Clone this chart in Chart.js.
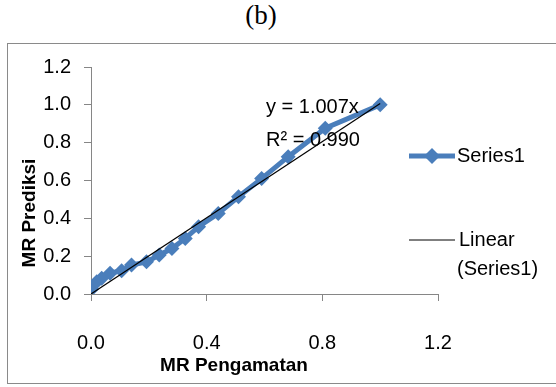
<!DOCTYPE html>
<html>
<head>
<meta charset="utf-8">
<script src="https://cdn.jsdelivr.net/npm/chart.js@4"></script>
<style>
  html, body { margin: 0; padding: 0; background: #fff; }
  #wrap { position: relative; width: 556px; height: 387px; overflow: hidden; }
  #frame { position: absolute; left: 7px; top: 43px; width: 600px; height: 341px; border: 1.5px solid #8a8a8a; box-sizing: border-box; }
  #ttl { position: absolute; left: 0; width: 522px; top: 0px; text-align: center; font-family: "Liberation Serif", "DejaVu Serif", serif; font-size: 27px; color: #000; }
  canvas { position: absolute; left: 0; top: 0; }
</style>
</head>
<body>
<div id="wrap">
  <div id="ttl">(b)</div>
  <div id="frame"></div>
  <canvas id="c" width="556" height="387"></canvas>
</div>
<script>
// Data
const mrPengamatan = [0.002, 0.02, 0.037, 0.066, 0.106, 0.14, 0.192, 0.236, 0.28, 0.326, 0.372, 0.44, 0.51, 0.59, 0.682, 0.81, 1.0];
const mrPrediksi   = [0.025, 0.065, 0.083, 0.11, 0.123, 0.153, 0.17, 0.206, 0.24, 0.294, 0.356, 0.426, 0.514, 0.61, 0.726, 0.876, 1.0];
const trendX = [0, 1.0];
const trendY = [0, 1.007];
const xTicks = [0.0, 0.4, 0.8, 1.2];
const yTicks = [0.0, 0.2, 0.4, 0.6, 0.8, 1.0, 1.2];
const seriesNames = ["Series1", "Linear (Series1)"];
const equationText = ["y = 1.007x", "R² = 0.990"];
const xTitle = "MR Pengamatan";
const yTitle = "MR Prediksi";

const FONT = '"Liberation Sans Narrow", "Liberation Sans", sans-serif';
const BLUE = '#4a7ebb';
const AXIS = '#868686';

const seriesPts = mrPengamatan.map((x, i) => ({ x: x, y: mrPrediksi[i] }));
const trendPts = trendX.map((x, i) => ({ x: x, y: trendY[i] }));

const extras = {
  id: 'extras',
  afterDraw(chart) {
    const ctx = chart.ctx;
    const ca = chart.chartArea;
    ctx.save();
    ctx.fillStyle = '#000';
    ctx.textBaseline = 'middle';
    // equation label
    ctx.font = '20px ' + FONT;
    ctx.textAlign = 'left';
    ctx.fillText(equationText[0], ca.left + 175, 107);
    ctx.fillText(equationText[1], ca.left + 175, 140);
    // axis titles
    ctx.font = 'bold 19px ' + FONT;
    ctx.textAlign = 'center';
    ctx.fillText(xTitle, 234, 366);
    ctx.save();
    ctx.translate(30, 213);
    ctx.rotate(-Math.PI / 2);
    ctx.fillText(yTitle, 0, 0);
    ctx.restore();
    // legend
    ctx.font = '20px ' + FONT;
    ctx.textAlign = 'left';
    const ly1 = 156;
    ctx.strokeStyle = BLUE; ctx.lineWidth = 5;
    ctx.beginPath(); ctx.moveTo(409, ly1); ctx.lineTo(455, ly1); ctx.stroke();
    ctx.fillStyle = BLUE;
    ctx.beginPath(); ctx.moveTo(432, ly1 - 8); ctx.lineTo(440, ly1); ctx.lineTo(432, ly1 + 8); ctx.lineTo(424, ly1); ctx.closePath(); ctx.fill();
    ctx.fillStyle = '#000';
    ctx.fillText(seriesNames[0], 457, ly1);
    const ly2 = 240;
    ctx.strokeStyle = '#000'; ctx.lineWidth = 1;
    ctx.beginPath(); ctx.moveTo(409, ly2); ctx.lineTo(455, ly2); ctx.stroke();
    const parts = seriesNames[1].split(' ');
    ctx.fillText(parts[0], 459, ly2);
    ctx.fillText(parts[1], 457, ly2 + 29);
    ctx.restore();
  }
};

new Chart(document.getElementById('c'), {
  type: 'scatter',
  data: {
    datasets: [
      { label: seriesNames[1], data: trendPts, showLine: true, borderColor: '#000', borderWidth: 1.2, pointRadius: 0, order: 0 },
      { label: seriesNames[0], data: seriesPts, showLine: true, borderColor: BLUE, backgroundColor: BLUE, borderWidth: 5,
        pointStyle: 'rectRot', pointRadius: 7.5, pointBorderWidth: 0, order: 1 }
    ]
  },
  options: {
    responsive: false,
    animation: false,
    layout: { padding: { left: 18, right: 118, top: 67, bottom: 10 } },
    plugins: { legend: { display: false }, tooltip: { enabled: false } },
    scales: {
      x: {
        type: 'linear', min: 0, max: 1.2,
        afterBuildTicks: (s) => { s.ticks = xTicks.map(v => ({ value: v })); },
        afterFit: (s) => { s.height = 83; },
        ticks: { callback: v => Number(v).toFixed(1), color: '#000', font: { family: FONT, size: 20 }, padding: 30, maxRotation: 0 },
        grid: { drawOnChartArea: false, drawTicks: true, tickLength: 7, color: AXIS, lineWidth: 1 },
        border: { display: true, color: AXIS, width: 1 }
      },
      y: {
        type: 'linear', min: 0, max: 1.2,
        afterBuildTicks: (s) => { s.ticks = yTicks.map(v => ({ value: v })); },
        afterFit: (s) => { s.width = 73; },
        ticks: { callback: v => Number(v).toFixed(1), color: '#000', font: { family: FONT, size: 20 }, padding: 13 },
        grid: { drawOnChartArea: false, drawTicks: true, tickLength: 7, color: AXIS, lineWidth: 1 },
        border: { display: true, color: AXIS, width: 1 }
      }
    }
  },
  plugins: [extras]
});
</script>
</body>
</html>
